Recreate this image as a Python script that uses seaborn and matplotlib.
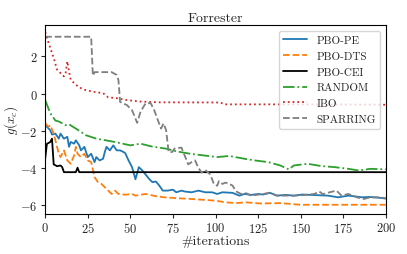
import matplotlib
matplotlib.use("Agg")
import matplotlib.pyplot as plt
import seaborn as sns

# (iteration, best value)
pbo_pe = [(0, -1.7), (1, -1.78), (3, -1.97), (4, -2.2), (6, -2.15), (8, -2.42), (9, -2.15),
          (11, -2.42), (13, -2.32), (14, -2.86), (15, -2.6), (17, -2.69), (18, -2.51),
          (20, -2.78), (21, -3.05), (23, -2.86), (25, -3.41), (27, -3.23), (29, -3.68),
          (30, -3.41), (32, -3.59), (34, -3.5), (35, -3.14), (36, -2.86), (38, -3.05),
          (40, -2.78), (42, -3.05), (44, -3.05), (46, -3.14), (47, -3.2), (49, -3.6),
          (51, -3.95), (53, -4.6), (55, -3.95), (57, -4.13), (59, -4.35), (61, -4.58),
          (63, -4.76), (65, -4.72), (67, -4.94), (69, -5.21), (72, -5.21), (75, -5.16),
          (77, -5.3), (80, -5.21), (82, -5.26), (86, -5.3), (90, -5.21), (94, -5.3),
          (98, -5.3), (101, -5.39), (104, -5.3), (110, -5.33), (114, -5.48), (117, -5.39),
          (121, -5.44), (125, -5.39), (128, -5.42), (132, -5.33), (136, -5.48), (141, -5.44),
          (146, -5.48), (151, -5.42), (156, -5.44), (161, -5.46), (166, -5.48), (172, -5.57),
          (178, -5.48), (182, -5.52), (186, -5.57), (190, -5.55), (193, -5.57), (197, -5.6),
          (200, -5.64)]

pbo_dts = [(0, -1.6), (2, -1.78), (3, -1.7), (5, -2.15), (6, -2.51), (8, -3.23), (9, -3.41),
           (11, -3.05), (13, -3.59), (15, -3.77), (17, -3.32), (18, -2.86), (19, -3.23),
           (21, -3.41), (23, -3.23), (25, -3.59), (27, -3.68), (29, -4.49), (31, -4.76),
           (33, -4.85), (36, -5.12), (39, -5.39), (41, -5.21), (43, -5.39), (47, -5.43),
           (51, -5.39), (53, -5.48), (59, -5.39), (65, -5.51), (70, -5.57), (78, -5.62),
           (86, -5.66), (94, -5.71), (100, -5.75), (106, -5.84), (112, -5.88), (118, -5.84),
           (126, -5.9), (138, -5.88), (150, -5.97), (175, -5.97), (200, -5.97)]

pbo_cei = [(0, -3.5), (1, -2.7), (3, -2.6), (4, -2.42), (5, -3.8), (7, -3.9), (9, -3.86),
           (10, -3.95), (11, -4.22), (18, -4.22), (19, -3.98), (20, -4.22), (200, -4.22)]

random_search = [(0, -0.35), (3, -1.06), (6, -1.45), (8, -1.5), (12, -1.7), (14, -1.65),
                 (18, -1.88), (24, -2.24), (30, -2.42), (35, -2.5), (41, -2.6), (50, -2.78),
                 (56, -2.69), (62, -2.83), (71, -2.96), (77, -3.1), (85, -3.23), (93, -3.32),
                 (101, -3.41), (108, -3.35), (117, -3.5), (123, -3.59), (131, -3.68),
                 (138, -3.86), (143, -4.07), (146, -3.86), (154, -3.77), (162, -3.89),
                 (170, -3.95), (178, -4.04), (184, -4.13), (191, -4.04), (200, -4.07)]

ibo = [(0, 3.3), (1, 2.99), (3, 2.45), (5, 1.91), (7, 1.28), (9, 1.1), (11, 0.92), (12, 1.1),
       (13, 1.73), (14, 1.19), (15, 0.74), (18, 0.47), (22, 0.23), (26, 0.14), (30, 0.07),
       (34, 0.02), (37, -0.2), (42, -0.25), (48, -0.35), (56, -0.43), (67, -0.47),
       (103, -0.48), (105, -0.58), (160, -0.58), (200, -0.6)]

sparring = [(0, 3.05), (27, 3.05), (28, 0.96), (29, 1.15), (39, 1.15), (42, 1.0), (43, 0.73),
            (44, -0.45), (48, -0.62), (51, -0.89), (54, -1.57), (56, -0.97), (59, -0.52),
            (62, -0.52), (64, -0.89), (68, -1.88), (69.5, -1.6), (71, -1.97), (72.5, -3.14),
            (74.5, -3.14), (76, -2.95), (80, -2.9), (82, -3.35), (84, -3.8), (86, -3.68),
            (88, -3.59), (90, -4.0), (92, -4.25), (94, -4.1), (97, -4.35), (99, -4.85),
            (101, -4.95), (102, -4.7), (104, -4.85), (106, -4.78), (108, -4.85), (110, -4.94),
            (112, -5.25), (115, -5.39), (118, -5.35), (121, -5.48), (128, -5.39), (132, -5.32),
            (136, -5.48), (146, -5.48), (152, -5.45), (158, -5.39), (161, -5.26), (163, -5.4),
            (167, -5.3), (171, -5.21), (174, -5.48), (178, -5.39), (183, -5.57), (187, -5.66),
            (191, -5.57), (196, -5.57), (200, -5.62)]

labels = ["PBO-PE", "PBO-DTS", "PBO-CEI", "RANDOM", "IBO", "SPARRING"]
colors = ["#1f77b4", "#ff7f0e", "black", "#2ca02c", "#d62728", "#7f7f7f"]
styles = ["-", "--", "-", "-.", ":", "--"]

sns.set_style("ticks")
plt.rcParams["font.family"] = "serif"
plt.rcParams["font.serif"] = ["cmr10"]
plt.rcParams["mathtext.fontset"] = "cm"
plt.rcParams["axes.formatter.use_mathtext"] = True
plt.rcParams["font.size"] = 9

fig = plt.figure(figsize=(4.07, 2.55), dpi=100)
ax = fig.add_axes([0.111, 0.158, 0.837, 0.74])

for series, label, color, ls in zip([pbo_pe, pbo_dts, pbo_cei, random_search, ibo, sparring],
                                    labels, colors, styles):
    xs = [p[0] for p in series]
    ys = [p[1] for p in series]
    sns.lineplot(x=xs, y=ys, ax=ax, color=color, linestyle=ls, linewidth=1.3,
                 label=label, estimator=None, sort=False)

ax.set_xlim(0, 200)
ax.set_ylim(-6.45, 3.68)
ax.set_xticks([0, 25, 50, 75, 100, 125, 150, 175, 200])
ax.set_yticks([-6, -4, -2, 0, 2])
ax.set_title("Forrester", fontsize=10, pad=3)
ax.set_xlabel("#iterations", fontsize=10, labelpad=0)
ax.set_ylabel("$g(x_c)$", fontsize=9.5)
ax.yaxis.set_label_coords(-0.075, 0.5)
ax.tick_params(labelsize=9, length=3, pad=2.5)
for s in ax.spines.values():
    s.set_color("black")
    s.set_linewidth(0.8)

ax.legend(loc="upper right", fontsize=8, fancybox=True, framealpha=0.8,
          labelspacing=0.55, handlelength=2.2, borderpad=0.4)

fig.savefig("out.png", dpi=100)
